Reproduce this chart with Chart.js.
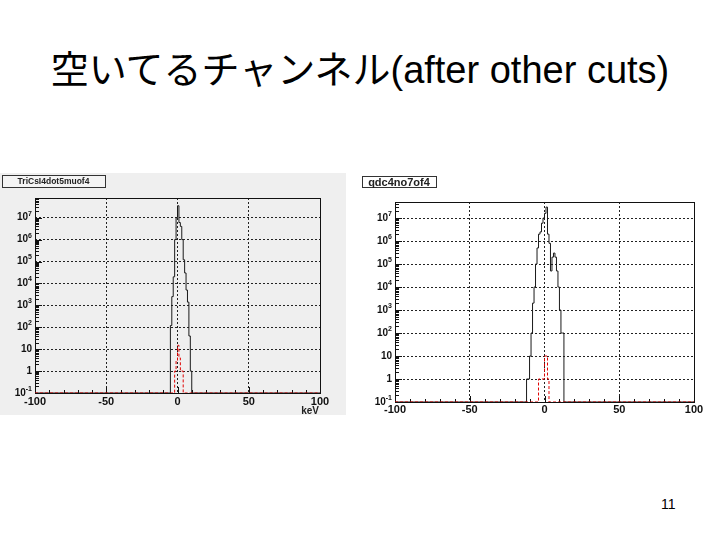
<!DOCTYPE html>
<html>
<head>
<meta charset="utf-8">
<script src="https://cdn.jsdelivr.net/npm/chart.js@4.4.0/dist/chart.umd.min.js"></script>
<style>
  body { margin: 0; width: 720px; height: 540px; background: #fff; position: relative; overflow: hidden; font-family: "Liberation Sans", Arial, sans-serif; }
  #title { position: absolute; left: 0; top: 48px; width: 720px; text-align: center; font-size: 38px; line-height: 44px; white-space: nowrap;
           font-family: "Liberation Sans", "Noto Sans CJK JP", sans-serif; color: #000; }
  #page { position: absolute; left: 661px; top: 496px; font-size: 14px; color: #000; }
  #c1 { position: absolute; left: 0; top: 173px; background: #efefef; }
  #c2 { position: absolute; left: 346px; top: 173px; background: #fff; }
</style>
</head>
<body>
<div id="title">空いてるチャンネル(after other cuts)</div>
<canvas id="c1" width="347" height="242"></canvas>
<canvas id="c2" width="374" height="247"></canvas>
<div id="page">11</div>
<script>
// histogram bins: low edge in keV, 1 keV wide, counts
const leftName = 'TriCsI4dot5muof4';
const leftBlackEdges = [-5, -4, -3, -2, -1, 0, 1, 2, 3, 4, 5, 6, 7, 8, 9];
const leftBlackCounts = [120, 2500, 2e4, 1e6, 1e7, 3.5e7, 6e6, 4e6, 1e6, 1.2e5, 3e4, 5000, 1400, 40, 1];
const leftRedEdges = [-2, -1, 0, 1, 2, 3];
const leftRedCounts = [1, 3, 15, 4, 1, 1];

const rightName = 'qdc4no7of4';
const rightBlackEdges = [-12, -11, -10, -9, -8, -7, -6, -5, -4, -3, -2, -1, 0, 1, 2, 3, 4, 5, 6, 7, 8, 9, 10, 11, 12];
const rightBlackCounts = [1, 1, 10, 100, 2000, 1e4, 1e5, 5e5, 2e6, 2.5e6, 6e6, 1e7, 1.6e7, 3e7, 2e6, 8e5, 5e4, 2e5, 3e5, 2e5, 5e4, 1e4, 1000, 100, 100];
const rightRedEdges = [-4, -3, -2, -1, 0, 1, 2];
const rightRedCounts = [1, 1, 1, 1, 10, 10, 1];

const xTicks = [-100, -50, 0, 50, 100];
const yDecades = [-1, 0, 1, 2, 3, 4, 5, 6, 7];
const binWidth = 1;
const floorCount = 0.1;

function histPoints(edges, counts) {
    const pts = [{ x: xTicks[0], y: floorCount }];
    edges.forEach((e, i) => pts.push({ x: e, y: counts[i] }));
    pts.push({ x: edges[edges.length - 1] + binWidth, y: floorCount });
    pts.push({ x: xTicks[xTicks.length - 1], y: floorCount });
    return pts;
}

// ROOT-like frame, inner ticks, 10^n labels and the histogram name box
const rootStyle = {
    id: 'rootStyle',
    beforeDatasetsDraw(chart, args, o) {
        const { ctx, chartArea: a, scales: { x, y } } = chart;
        ctx.save();
        ctx.strokeStyle = '#111';
        ctx.lineWidth = 1;
        ctx.strokeRect(Math.round(a.left) + .5, Math.round(a.top) + .5, Math.round(a.right - a.left), Math.round(a.bottom - a.top));
        ctx.beginPath();
        yDecades.forEach(d => {
            for (let m = 1; m <= 9; m++) {
                const v = m * Math.pow(10, d);
                if (v > y.max) break;
                const py = Math.round(y.getPixelForValue(v)) + .5;
                ctx.moveTo(a.left, py);
                ctx.lineTo(a.left + (m === 1 ? 7 : 4), py);
            }
        });
        for (let v = xTicks[0]; v <= xTicks[xTicks.length - 1]; v += 10) {
            const px = Math.round(x.getPixelForValue(v)) + .5;
            ctx.moveTo(px, a.bottom);
            ctx.lineTo(px, a.bottom - (v % 50 === 0 ? 6 : 3));
        }
        ctx.stroke();
        ctx.restore();
    },
    afterDraw(chart, args, o) {
        const { ctx, chartArea: a, scales: { y } } = chart;
        ctx.save();
        ctx.fillStyle = '#111';
        ctx.textBaseline = 'middle';
        const big = 'bold 10px "Liberation Sans", Arial, sans-serif';
        const small = 'bold 7px "Liberation Sans", Arial, sans-serif';
        yDecades.forEach(d => {
            const py = y.getPixelForValue(Math.pow(10, d));
            const right = a.left - 3;
            ctx.textAlign = 'right';
            if (d === 0 || d === 1) {
                ctx.font = big;
                ctx.fillText(d === 0 ? '1' : '10', right, py);
            } else {
                ctx.font = small;
                const exp = String(d);
                const ew = ctx.measureText(exp).width;
                ctx.fillText(exp, right, py - 4);
                ctx.font = big;
                ctx.fillText('10', right - ew, py);
            }
        });
        // name box
        const b = o.box;
        ctx.fillStyle = o.boxFill;
        ctx.fillRect(b[0], b[1], b[2], b[3]);
        ctx.strokeStyle = '#333';
        ctx.strokeRect(b[0] + .5, b[1] + .5, b[2], b[3]);
        ctx.fillStyle = '#222';
        ctx.font = o.nameFont;
        ctx.textAlign = 'center';
        ctx.fillText(o.name, b[0] + b[2] / 2, b[1] + b[3] / 2 + 1);
        if (o.xTitle) {
            ctx.font = 'bold 10px "Liberation Sans", Arial, sans-serif';
            ctx.textAlign = 'right';
            ctx.fillText(o.xTitle, a.right - 1, a.bottom + 18);
        }
        ctx.restore();
    }
};

function makeChart(id, black, red, cfg) {
    return new Chart(document.getElementById(id), {
        type: 'line',
        data: {
            datasets: [
                { data: red, borderColor: '#e00000', borderWidth: 1, borderDash: [3, 2], stepped: true, pointRadius: 0, fill: false },
                { data: black, borderColor: '#1a1a1a', borderWidth: 1, stepped: true, pointRadius: 0, fill: false }
            ]
        },
        options: {
            responsive: false,
            animation: false,
            devicePixelRatio: 1,
            layout: { padding: cfg.padding },
            plugins: {
                legend: { display: false },
                tooltip: { enabled: false },
                rootStyle: { box: cfg.box, boxFill: cfg.boxFill, name: cfg.name, nameFont: cfg.nameFont, xTitle: cfg.xTitle }
            },
            scales: {
                x: {
                    type: 'linear', min: xTicks[0], max: xTicks[xTicks.length - 1],
                    afterBuildTicks: s => { s.ticks = xTicks.map(v => ({ value: v })); },
                    afterFit: s => { s.height = cfg.xAxisHeight; },
                    grid: { color: '#222', lineWidth: 1, drawTicks: false },
                    border: { display: false, dash: [2, 2] },
                    ticks: { color: '#111', padding: cfg.xPad, maxRotation: 0, autoSkip: false,
                             font: { family: '"Liberation Sans", Arial, sans-serif', size: 11, weight: 'bold' } }
                },
                y: {
                    type: 'logarithmic', min: floorCount, max: cfg.yMax,
                    afterBuildTicks: s => { s.ticks = yDecades.map(d => ({ value: Math.pow(10, d) })); },
                    afterFit: s => { s.width = cfg.yAxisWidth; },
                    grid: { color: '#222', lineWidth: 1, drawTicks: false },
                    border: { display: false, dash: [2, 2] },
                    ticks: { display: false }
                }
            }
        },
        plugins: [rootStyle]
    });
}

makeChart('c1', histPoints(leftBlackEdges, leftBlackCounts), histPoints(leftRedEdges, leftRedCounts), {
    padding: { left: 0, right: 27, top: 25, bottom: 0 },
    yAxisWidth: 35, xAxisHeight: 22, xPad: 2, yMax: 7.9e7,
    box: [2, 2, 103, 12], boxFill: '#f4f4f4', name: leftName,
    nameFont: 'bold 8.5px "Liberation Sans", Arial, sans-serif', xTitle: 'keV'
});
makeChart('c2', histPoints(rightBlackEdges, rightBlackCounts), histPoints(rightRedEdges, rightRedCounts), {
    padding: { left: 0, right: 26, top: 29, bottom: 0 },
    yAxisWidth: 49, xAxisHeight: 18, xPad: 1, yMax: 5e7,
    box: [16, 3, 74, 11], boxFill: '#fff', name: rightName,
    nameFont: 'bold 11px "Liberation Sans", Arial, sans-serif', xTitle: ''
});
</script>
</body>
</html>
